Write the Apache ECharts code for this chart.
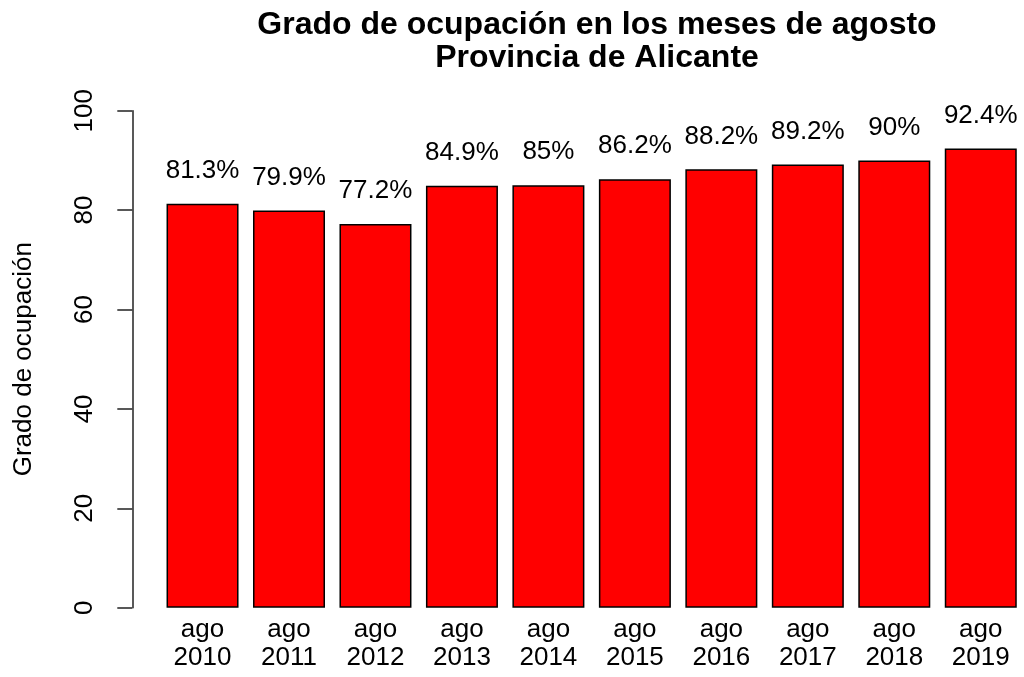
<!DOCTYPE html>
<html>
<head>
<meta charset="utf-8">
<script src="https://cdn.jsdelivr.net/npm/echarts@6/dist/echarts.min.js"></script>
<style>
  html, body { margin: 0; padding: 0; background: #fff; }
  #chart { width: 1024px; height: 677px; }
</style>
</head>
<body>
<div id="chart"></div>
<script>
const months = ['ago\n2010', 'ago\n2011', 'ago\n2012', 'ago\n2013', 'ago\n2014',
  'ago\n2015', 'ago\n2016', 'ago\n2017', 'ago\n2018', 'ago\n2019']
const occupancy = [81.3, 79.9, 77.2, 84.9, 85, 86.2, 88.2, 89.2, 90, 92.4]
const yTicks = [0, 20, 40, 60, 80, 100]

const font = 'Liberation Sans, Arial, sans-serif'
const chart = echarts.init(document.getElementById('chart'))

chart.setOption({
  animation: false,
  backgroundColor: '#fff',
  title: {
    text: 'Grado de ocupación en los meses de agosto\nProvincia de Alicante',
    left: 592,
    top: 4,
    textAlign: 'center',
    textStyle: {
      fontFamily: font,
      fontSize: 32,
      fontWeight: 'bold',
      color: '#000',
      lineHeight: 33
    }
  },
  grid: {
    left: 159.3,
    top: 110.7,
    width: 867,
    bottom: 69.3,
    containLabel: false
  },
  xAxis: {
    type: 'category',
    data: months,
    boundaryGap: true,
    axisLine: { show: false },
    axisTick: { show: false },
    axisLabel: {
      fontFamily: font,
      fontSize: 26,
      color: '#000',
      lineHeight: 28,
      margin: 8
    }
  },
  yAxis: {
    type: 'value',
    min: yTicks[0],
    max: yTicks[yTicks.length - 1],
    interval: 20,
    offset: 27,
    name: 'Grado de ocupación',
    nameLocation: 'middle',
    nameGap: 95,
    nameRotate: 90,
    nameTextStyle: { fontFamily: font, fontSize: 26, color: '#000' },
    splitLine: { show: false },
    axisLine: { show: true, lineStyle: { color: '#222', width: 1.5 } },
    axisTick: { show: true, length: 15, lineStyle: { color: '#222', width: 1.5 } },
    axisLabel: {
      rotate: 90,
      margin: 34,
      fontFamily: font,
      fontSize: 26,
      color: '#000'
    }
  },
  series: [{
    type: 'bar',
    data: occupancy,
    barWidth: 72,
    itemStyle: { color: '#ff0000', borderColor: '#000', borderWidth: 1.5 },
    label: {
      show: true,
      position: 'top',
      distance: 20,
      formatter: p => p.value + '%',
      fontFamily: font,
      fontSize: 26,
      color: '#000'
    }
  }]
})
</script>
</body>
</html>
